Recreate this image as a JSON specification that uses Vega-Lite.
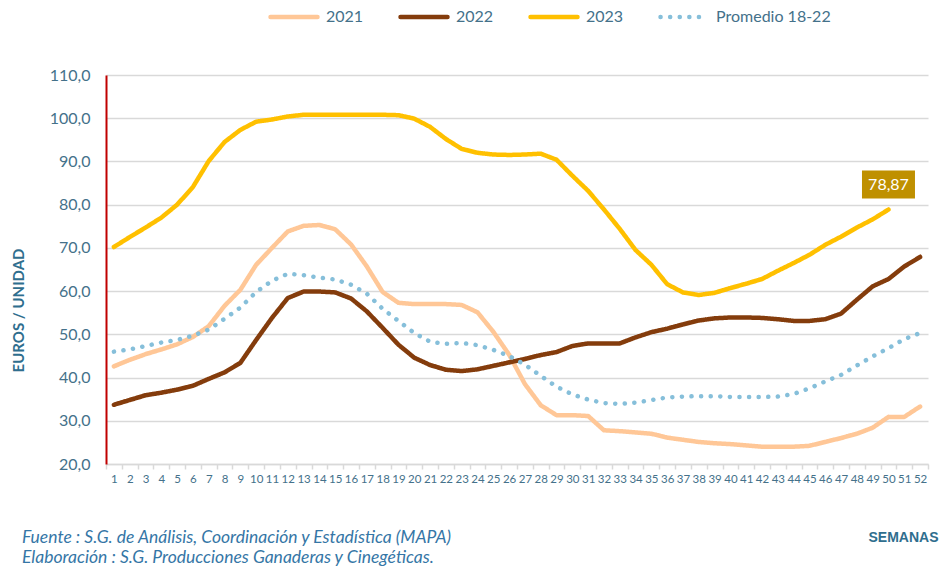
{
  "$schema": "https://vega.github.io/schema/vega-lite/v6.json",
  "width": 822,
  "height": 389,
  "autosize": {"type": "none"},
  "padding": {"left": 106, "top": 75, "right": 11, "bottom": 102},
  "background": "white",
  "config": {
    "locale": {"number": {"decimal": ",", "thousands": ".", "grouping": [3], "currency": ["", " €"]}},
    "view": {"stroke": null},
    "font": "Lato"
  },
  "title": {
    "text": ["Fuente :  S.G. de Análisis, Coordinación y Estadística (MAPA)", "Elaboración : S.G. Producciones Ganaderas y Cinegéticas."],
    "orient": "bottom",
    "anchor": "start",
    "frame": "group",
    "dx": -84,
    "offset": -15,
    "font": "Lato",
    "fontSize": 17.5,
    "fontStyle": "italic",
    "fontWeight": "normal",
    "color": "#3576A6",
    "lineHeight": 20
  },
  "data": {
    "values": [
      {"week": 1, "2021": 42.6, "2022": 33.7, "2023": 70.2, "Promedio 18-22": 46.0},
      {"week": 2, "2021": 44.1, "2022": 34.8, "2023": 72.5, "Promedio 18-22": 46.5},
      {"week": 3, "2021": 45.4, "2022": 35.9, "2023": 74.7, "Promedio 18-22": 47.3},
      {"week": 4, "2021": 46.5, "2022": 36.5, "2023": 77.0, "Promedio 18-22": 48.1},
      {"week": 5, "2021": 47.7, "2022": 37.2, "2023": 80.0, "Promedio 18-22": 48.7},
      {"week": 6, "2021": 49.4, "2022": 38.1, "2023": 84.1, "Promedio 18-22": 49.7},
      {"week": 7, "2021": 51.9, "2022": 39.7, "2023": 90.1, "Promedio 18-22": 51.1},
      {"week": 8, "2021": 56.6, "2022": 41.2, "2023": 94.5, "Promedio 18-22": 53.6},
      {"week": 9, "2021": 60.3, "2022": 43.4, "2023": 97.3, "Promedio 18-22": 56.2},
      {"week": 10, "2021": 66.1, "2022": 48.7, "2023": 99.2, "Promedio 18-22": 59.8},
      {"week": 11, "2021": 70.0, "2022": 53.8, "2023": 99.7, "Promedio 18-22": 62.4},
      {"week": 12, "2021": 73.8, "2022": 58.4, "2023": 100.4, "Promedio 18-22": 64.0},
      {"week": 13, "2021": 75.1, "2022": 59.9, "2023": 100.8, "Promedio 18-22": 63.7},
      {"week": 14, "2021": 75.3, "2022": 59.9, "2023": 100.8, "Promedio 18-22": 63.1},
      {"week": 15, "2021": 74.3, "2022": 59.7, "2023": 100.8, "Promedio 18-22": 62.7},
      {"week": 16, "2021": 70.8, "2022": 58.3, "2023": 100.8, "Promedio 18-22": 61.5},
      {"week": 17, "2021": 65.7, "2022": 55.3, "2023": 100.8, "Promedio 18-22": 59.4},
      {"week": 18, "2021": 59.8, "2022": 51.5, "2023": 100.8, "Promedio 18-22": 55.9},
      {"week": 19, "2021": 57.3, "2022": 47.6, "2023": 100.7, "Promedio 18-22": 53.1},
      {"week": 20, "2021": 57.0, "2022": 44.6, "2023": 99.9, "Promedio 18-22": 50.3},
      {"week": 21, "2021": 57.0, "2022": 42.9, "2023": 98.0, "Promedio 18-22": 48.3},
      {"week": 22, "2021": 57.0, "2022": 41.8, "2023": 95.2, "Promedio 18-22": 47.8},
      {"week": 23, "2021": 56.8, "2022": 41.5, "2023": 92.9, "Promedio 18-22": 48.0},
      {"week": 24, "2021": 55.1, "2022": 41.9, "2023": 92.0, "Promedio 18-22": 47.5},
      {"week": 25, "2021": 50.6, "2022": 42.7, "2023": 91.6, "Promedio 18-22": 46.4},
      {"week": 26, "2021": 45.3, "2022": 43.5, "2023": 91.5, "Promedio 18-22": 45.0},
      {"week": 27, "2021": 38.5, "2022": 44.3, "2023": 91.6, "Promedio 18-22": 43.0},
      {"week": 28, "2021": 33.6, "2022": 45.2, "2023": 91.8, "Promedio 18-22": 40.4},
      {"week": 29, "2021": 31.3, "2022": 45.9, "2023": 90.4, "Promedio 18-22": 37.9},
      {"week": 30, "2021": 31.3, "2022": 47.3, "2023": 86.7, "Promedio 18-22": 36.1},
      {"week": 31, "2021": 31.1, "2022": 47.9, "2023": 83.2, "Promedio 18-22": 34.9},
      {"week": 32, "2021": 27.8, "2022": 47.9, "2023": 78.9, "Promedio 18-22": 34.1},
      {"week": 33, "2021": 27.6, "2022": 47.9, "2023": 74.4, "Promedio 18-22": 33.9},
      {"week": 34, "2021": 27.3, "2022": 49.3, "2023": 69.5, "Promedio 18-22": 34.2},
      {"week": 35, "2021": 27.0, "2022": 50.5, "2023": 66.1, "Promedio 18-22": 34.8},
      {"week": 36, "2021": 26.1, "2022": 51.3, "2023": 61.6, "Promedio 18-22": 35.4},
      {"week": 37, "2021": 25.6, "2022": 52.3, "2023": 59.7, "Promedio 18-22": 35.6},
      {"week": 38, "2021": 25.1, "2022": 53.2, "2023": 59.1, "Promedio 18-22": 35.7},
      {"week": 39, "2021": 24.8, "2022": 53.7, "2023": 59.6, "Promedio 18-22": 35.7},
      {"week": 40, "2021": 24.6, "2022": 53.9, "2023": 60.7, "Promedio 18-22": 35.5},
      {"week": 41, "2021": 24.3, "2022": 53.9, "2023": 61.7, "Promedio 18-22": 35.5},
      {"week": 42, "2021": 24.0, "2022": 53.8, "2023": 62.8, "Promedio 18-22": 35.5},
      {"week": 43, "2021": 24.0, "2022": 53.5, "2023": 64.7, "Promedio 18-22": 35.6},
      {"week": 44, "2021": 24.0, "2022": 53.1, "2023": 66.5, "Promedio 18-22": 36.2},
      {"week": 45, "2021": 24.2, "2022": 53.1, "2023": 68.4, "Promedio 18-22": 37.5},
      {"week": 46, "2021": 25.1, "2022": 53.5, "2023": 70.7, "Promedio 18-22": 39.1},
      {"week": 47, "2021": 26.0, "2022": 54.8, "2023": 72.6, "Promedio 18-22": 40.6},
      {"week": 48, "2021": 27.0, "2022": 58.0, "2023": 74.7, "Promedio 18-22": 42.8},
      {"week": 49, "2021": 28.4, "2022": 61.1, "2023": 76.6, "Promedio 18-22": 44.9},
      {"week": 50, "2021": 30.9, "2022": 62.8, "2023": 78.87, "Promedio 18-22": 46.8},
      {"week": 51, "2021": 30.9, "2022": 65.7, "Promedio 18-22": 48.9},
      {"week": 52, "2021": 33.3, "2022": 67.9, "Promedio 18-22": 50.3}
    ]
  },
  "transform": [
    {"fold": ["2021", "2022", "2023", "Promedio 18-22"], "as": ["serie", "value"]},
    {"filter": "isValid(datum.value)"}
  ],
  "encoding": {
    "x": {
      "field": "week",
      "type": "ordinal",
      "scale": {"type": "band", "paddingInner": 0, "paddingOuter": 0},
      "axis": {
        "labelAngle": 0,
        "tickBand": "extent",
        "labelOverlap": false,
        "labelFlush": false,
        "domainColor": "#D9D9D9",
        "domainWidth": 1.5,
        "tickColor": "#D9D9D9",
        "tickWidth": 1.5,
        "tickSize": 5,
        "labelColor": "#44718A",
        "labelFont": "Lato",
        "labelFontSize": 11.5,
        "labelPadding": 4,
        "grid": false,
        "title": "SEMANAS",
        "titleX": 832,
        "titleY": 73,
        "titleAlign": "right",
        "titleBaseline": "middle",
        "titleFont": "Liberation Sans",
        "titleFontSize": 14,
        "titleFontWeight": "bold",
        "titleColor": "#2F6E8E"
      }
    },
    "y": {
      "field": "value",
      "type": "quantitative",
      "scale": {"domain": [20, 110], "nice": false, "zero": false},
      "axis": {
        "values": [20, 30, 40, 50, 60, 70, 80, 90, 100, 110],
        "format": ".1f",
        "tickSize": 0,
        "labelPadding": 16,
        "labelColor": "#44718A",
        "labelFont": "Lato",
        "labelFontSize": 16,
        "domainColor": "#C00000",
        "domainWidth": 2,
        "gridColor": "#D9D9D9",
        "gridWidth": 1.5,
        "title": "EUROS / UNIDAD",
        "titleX": -88,
        "titleY": 235,
        "titleAlign": "center",
        "titleBaseline": "middle",
        "titleFont": "Lato",
        "titleFontSize": 15,
        "titleFontWeight": "bold",
        "titleColor": "#2F6E8E"
      }
    }
  },
  "layer": [
    {
      "mark": {"type": "line", "strokeWidth": 4.5, "strokeCap": "round", "strokeJoin": "round"},
      "encoding": {
        "color": {
          "field": "serie",
          "type": "nominal",
          "scale": {"domain": ["2021", "2022", "2023", "Promedio 18-22"], "range": ["#FFC797", "#843C0C", "#FFC000", "#86BFDA"]},
          "legend": {
            "title": null,
            "orient": "none",
            "direction": "horizontal",
            "legendX": 162,
            "legendY": -84,
            "symbolType": "stroke",
            "symbolSize": 2209,
            "symbolStrokeWidth": 4.5,
            "labelFont": "Lato",
            "labelFontSize": 16,
            "labelColor": "#44718A",
            "labelOffset": 6,
            "columnPadding": 27,
            "encode": {"symbols": {"update": {"strokeCap": {"value": "round"}}}}
          }
        },
        "strokeDash": {
          "field": "serie",
          "type": "nominal",
          "scale": {"domain": ["2021", "2022", "2023", "Promedio 18-22"], "range": [[1, 0], [1, 0], [1, 0], [0.1, 9.5]]},
          "legend": {
            "title": null,
            "orient": "none",
            "direction": "horizontal",
            "legendX": 162,
            "legendY": -84,
            "symbolType": "stroke",
            "symbolSize": 2209,
            "symbolStrokeWidth": 4.5,
            "labelFont": "Lato",
            "labelFontSize": 16,
            "labelColor": "#44718A",
            "labelOffset": 6,
            "columnPadding": 27,
            "encode": {"symbols": {"update": {"strokeCap": {"value": "round"}}}}
          }
        }
      }
    },
    {
      "transform": [{"filter": "datum.serie == '2023' && datum.week == 50"}],
      "mark": {"type": "point", "shape": "M-1,-0.53L1,-0.53L1,0.53L-1,0.53Z", "size": 2809, "filled": true, "fill": "#BF9000", "opacity": 1, "yOffset": -25},
      "encoding": {}
    },
    {
      "transform": [{"filter": "datum.serie == '2023' && datum.week == 50"}],
      "mark": {"type": "text", "color": "white", "font": "Lato", "fontSize": 16, "dy": -25, "baseline": "middle", "align": "center"},
      "encoding": {"text": {"field": "value", "type": "quantitative", "format": ".2f"}}
    }
  ]
}
